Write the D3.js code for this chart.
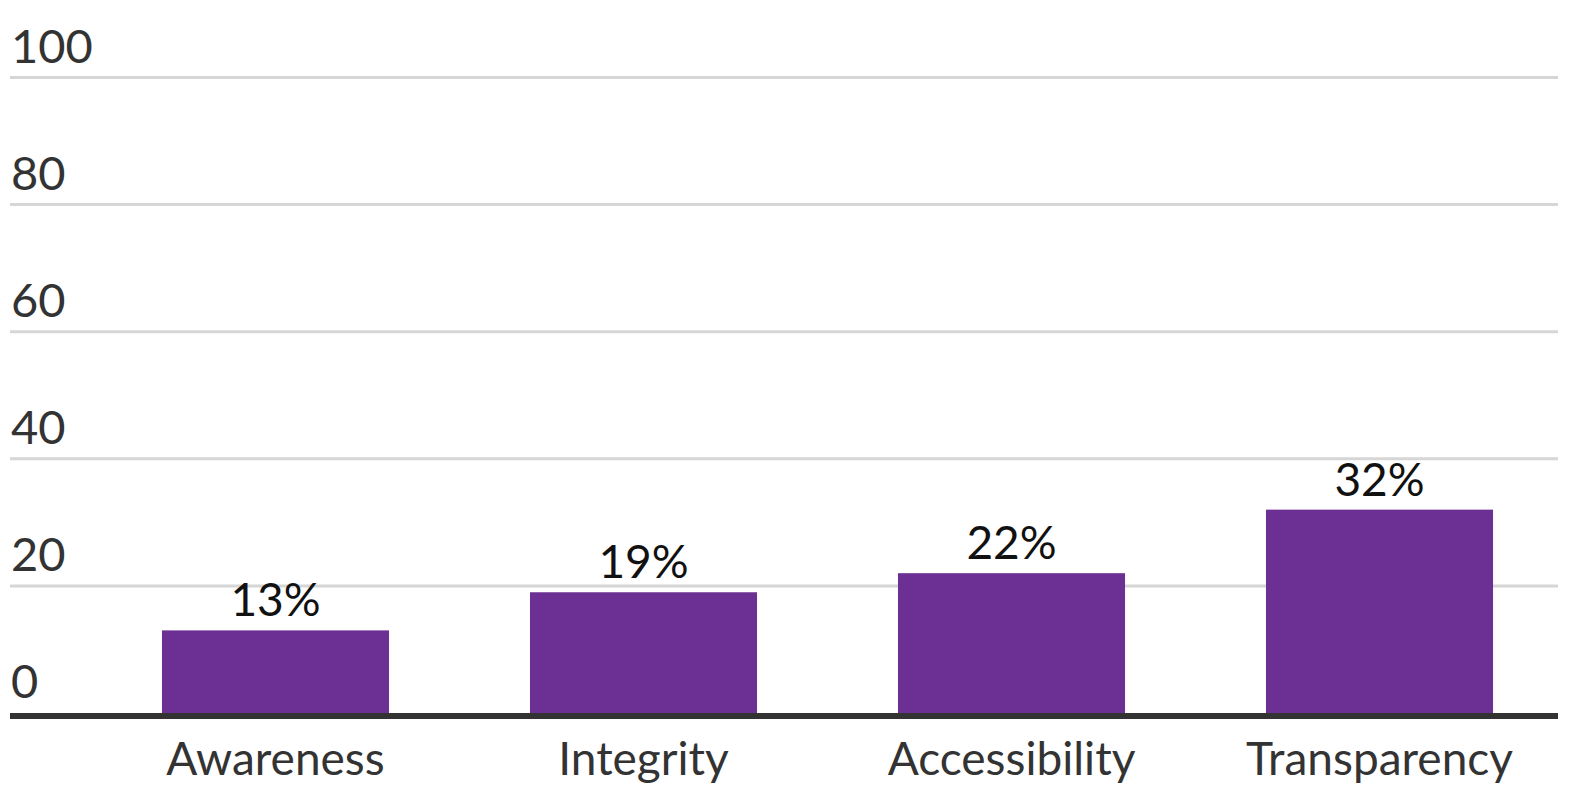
<!DOCTYPE html>
<html>
<head>
<meta charset="utf-8">
<script src="https://cdn.jsdelivr.net/npm/d3@7.9.0/dist/d3.min.js"></script>
<style>
  html, body { margin: 0; padding: 0; background: #fff; }
  svg { display: block; font-family: Lato, "Noto Sans", sans-serif; }
</style>
</head>
<body>
<svg id="chart" width="1578" height="793"></svg>
<script>
const categories = ['Awareness', 'Integrity', 'Accessibility', 'Transparency'];
const values = [13, 19, 22, 32];
const yTicks = [0, 20, 40, 60, 80, 100];

const svg = d3.select('#chart');
const left = 10, right = 1558;

const x = d3.scaleBand()
  .domain(categories)
  .range([91.5, 1563.5])
  .paddingInner(0.383)
  .paddingOuter(0.1915);

const y = d3.scaleLinear().domain([0, 100]).range([713, 77.5]);

// gridlines + tick labels
const grid = svg.append('g');
yTicks.filter(t => t > 0).forEach(t => {
  grid.append('line')
    .attr('x1', left).attr('x2', right)
    .attr('y1', y(t)).attr('y2', y(t))
    .attr('stroke', '#d6d6d6').attr('stroke-width', 3);
});
yTicks.forEach(t => {
  grid.append('text')
    .attr('x', 11).attr('y', y(t) - 15)
    .attr('fill', '#333')
    .attr('font-size', 47)
    .text(t);
});

// bars
svg.append('g').selectAll('rect')
  .data(categories)
  .join('rect')
  .attr('x', d => x(d))
  .attr('width', x.bandwidth())
  .attr('y', (d, i) => y(values[i]))
  .attr('height', (d, i) => y(0) - y(values[i]))
  .attr('fill', '#6c2f94');

// value labels
svg.append('g').selectAll('text')
  .data(categories)
  .join('text')
  .attr('x', d => x(d) + x.bandwidth() / 2)
  .attr('y', (d, i) => y(values[i]) - 14)
  .attr('text-anchor', 'middle')
  .attr('font-size', 46)
  .attr('fill', '#111')
  .text((d, i) => values[i] + '%');

// baseline
svg.append('line')
  .attr('x1', left).attr('x2', right)
  .attr('y1', y(0) + 3).attr('y2', y(0) + 3)
  .attr('stroke', '#333').attr('stroke-width', 6);

// x axis labels
svg.append('g').selectAll('text')
  .data(categories)
  .join('text')
  .attr('x', d => x(d) + x.bandwidth() / 2)
  .attr('y', 775)
  .attr('text-anchor', 'middle')
  .attr('font-size', 46)
  .attr('fill', '#333')
  .text(d => d);
</script>
</body>
</html>
